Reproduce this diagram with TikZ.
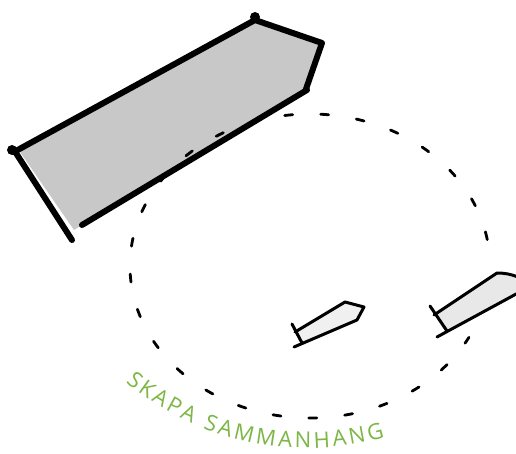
\documentclass[tikz,border=0pt]{standalone}
\usepackage{fontspec}
\usepackage{xcolor}
\usepackage{tikz}
\usetikzlibrary{decorations.text}
\newfontfamily\sketchfont{Open Sans}
\definecolor{signgray}{RGB}{200, 200, 200}
\definecolor{palegray}{RGB}{240, 240, 240}
\definecolor{tipgray}{RGB}{232, 232, 232}
\definecolor{leafgreen}{RGB}{124, 182, 68}

\begin{document}
\begin{tikzpicture}[
    x=1pt, y=1pt,
    bigoutline/.style={line width=6pt, line cap=round, line join=round, draw=black},
    smalloutline/.style={line width=3pt, line cap=round, line join=round, draw=black},
    ring/.style={line width=2.8pt, line cap=round, dash pattern=on 8pt off 28pt},
    slogan/.style={decorate, decoration={text along path, text align={fit to path},
        text={|\sketchfont\fontsize{22}{26}\selectfont\color{leafgreen}|SKAPA SAMMANHANG}}}
]
    \useasboundingbox (0,0) rectangle (516,453);

    \fill[signgray] (20,301) -- (255,431) -- (322,409) -- (305,363) -- (74,223) -- cycle;
    \draw[bigoutline] (14,301) -- (255,433) -- (322,410) -- (306,364);
    \draw[bigoutline] (82,228) -- (307,363);
    \draw[bigoutline] (14,303) -- (72,213);
    \fill (255,436) circle (5pt);
    \fill (12,303) circle (5pt);

    \draw[ring] (310,187) ++(10:180 and 152) arc[start angle=10, end angle=332, x radius=180, y radius=152];

    \fill[palegray] (297,122) -- (345,150) -- (363,146) -- (356,132) -- (302,109) -- cycle;
    \draw[smalloutline] (292,129) -- (302,110);
    \draw[smalloutline] (295,121) -- (345,151) -- (364,146) -- (357,133);
    \draw[smalloutline] (294,106) -- (357,133);

    \fill[tipgray] (436,139) -- (497,180) -- (516,176) -- (516,160) -- (445,121) -- cycle;
    \draw[smalloutline] (430,147) -- (447,122);
    \draw[smalloutline] (434,138) -- (497,180) to[bend left=10] (518,176);
    \draw[smalloutline] (437,116) -- (518,160);

    \path[slogan] (307,287) ++(230:282) arc[start angle=230, end angle=286, radius=282];

\end{tikzpicture}
\end{document}
